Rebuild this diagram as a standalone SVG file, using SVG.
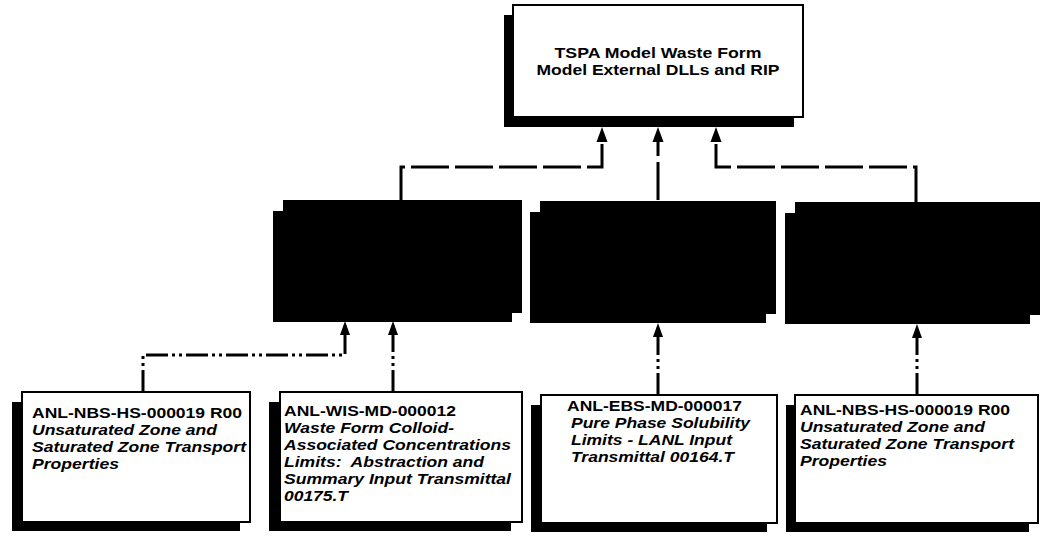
<svg xmlns="http://www.w3.org/2000/svg" width="1042" height="536" viewBox="0 0 1042 536">
<style>
.bg{fill:#ffffff}
.shadow{fill:#000000}
.box{fill:#ffffff;stroke:#000000;stroke-width:2}
.solid{fill:#000000}
.t{font-family:"Liberation Sans",Arial,sans-serif;font-size:15px;font-weight:bold;fill:#000000}
.i{font-style:italic}
.c{text-anchor:middle}
.dash{fill:none;stroke:#000000;stroke-width:3;stroke-dasharray:38 6}
.dd{fill:none;stroke:#000000;stroke-width:3;stroke-dasharray:22 4 3 4 3 4}
.ah{fill:#000000}
</style>
<rect class="bg" x="0" y="0" width="1042" height="536"/>

<g id="connectors">
  <path class="dash" d="M401,201 V167 H602 V140"/>
  <path class="dash" d="M658,200 V140"/>
  <path class="dash" d="M916,202 V167 H716 V140"/>
  <polygon class="ah" points="602,127 596.5,142 607.5,142"/>
  <polygon class="ah" points="658,127 652.5,142 663.5,142"/>
  <polygon class="ah" points="716,127 710.5,142 721.5,142"/>

  <path class="dd" d="M143,392 V355 H345 V334"/>
  <path class="dd" d="M393,392 V334"/>
  <path class="dd" d="M658,395 V336"/>
  <path class="dd" d="M917,395 V337"/>
  <polygon class="ah" points="345,321 340,335 350,335"/>
  <polygon class="ah" points="393,321 388,335 398,335"/>
  <polygon class="ah" points="658,323 653,337 663,337"/>
  <polygon class="ah" points="917,324 912,338 922,338"/>
</g>

<g id="top">
  <rect class="shadow" x="504" y="15" width="290" height="112"/>
  <rect class="box" x="513" y="5" width="290" height="112"/>
  <text class="t c" x="658" y="58" textLength="207" lengthAdjust="spacingAndGlyphs">TSPA Model Waste Form</text>
  <text class="t c" x="658" y="75" textLength="243" lengthAdjust="spacingAndGlyphs">Model External DLLs and RIP</text>
</g>

<g id="mid1">
  <rect class="solid" x="273" y="211" width="239" height="111"/>
  <rect class="solid" x="283" y="200" width="239" height="113"/>
</g>
<g id="mid2">
  <rect class="solid" x="530" y="212" width="236" height="111"/>
  <rect class="solid" x="540" y="201" width="236" height="113"/>
</g>
<g id="mid3">
  <rect class="solid" x="785" y="213" width="245" height="111"/>
  <rect class="solid" x="795" y="202" width="245" height="113"/>
</g>

<g id="src1">
  <rect class="shadow" x="12" y="402" width="228" height="129"/>
  <rect class="box" x="22" y="392" width="228" height="130"/>
  <text class="t" x="32" y="418" textLength="210" lengthAdjust="spacingAndGlyphs">ANL-NBS-HS-000019 R00</text>
  <text class="t i" x="32" y="435" textLength="185" lengthAdjust="spacingAndGlyphs">Unsaturated Zone and</text>
  <text class="t i" x="32" y="452" textLength="214" lengthAdjust="spacingAndGlyphs">Saturated Zone Transport</text>
  <text class="t i" x="32" y="469" textLength="87" lengthAdjust="spacingAndGlyphs">Properties</text>
</g>

<g id="src2">
  <rect class="shadow" x="269" y="402" width="242" height="129"/>
  <rect class="box" x="280" y="392" width="242" height="130"/>
  <text class="t" x="284" y="416" textLength="172" lengthAdjust="spacingAndGlyphs">ANL-WIS-MD-000012</text>
  <text class="t i" x="284" y="433" textLength="170" lengthAdjust="spacingAndGlyphs">Waste Form Colloid-</text>
  <text class="t i" x="284" y="450" textLength="227" lengthAdjust="spacingAndGlyphs">Associated Concentrations</text>
  <text class="t i" x="284" y="467" textLength="200" lengthAdjust="spacingAndGlyphs" xml:space="preserve">Limits:  Abstraction and</text>
  <text class="t i" x="284" y="484" textLength="227" lengthAdjust="spacingAndGlyphs">Summary Input Transmittal</text>
  <text class="t i" x="284" y="501" textLength="64" lengthAdjust="spacingAndGlyphs">00175.T</text>
</g>

<g id="src3">
  <rect class="shadow" x="531" y="405" width="236" height="127"/>
  <rect class="box" x="541" y="395" width="236" height="128"/>
  <text class="t" x="567" y="411" textLength="175" lengthAdjust="spacingAndGlyphs">ANL-EBS-MD-000017</text>
  <text class="t i" x="571" y="428" textLength="179" lengthAdjust="spacingAndGlyphs">Pure Phase Solubility</text>
  <text class="t i" x="571" y="445" textLength="161" lengthAdjust="spacingAndGlyphs">Limits - LANL Input</text>
  <text class="t i" x="571" y="462" textLength="163" lengthAdjust="spacingAndGlyphs">Transmittal 00164.T</text>
</g>

<g id="src4">
  <rect class="shadow" x="786" y="405" width="243" height="127"/>
  <rect class="box" x="795" y="395" width="243" height="128"/>
  <text class="t" x="800" y="415" textLength="210" lengthAdjust="spacingAndGlyphs">ANL-NBS-HS-000019 R00</text>
  <text class="t i" x="800" y="432" textLength="185" lengthAdjust="spacingAndGlyphs">Unsaturated Zone and</text>
  <text class="t i" x="800" y="449" textLength="214" lengthAdjust="spacingAndGlyphs">Saturated Zone Transport</text>
  <text class="t i" x="800" y="466" textLength="87" lengthAdjust="spacingAndGlyphs">Properties</text>
</g>
</svg>
